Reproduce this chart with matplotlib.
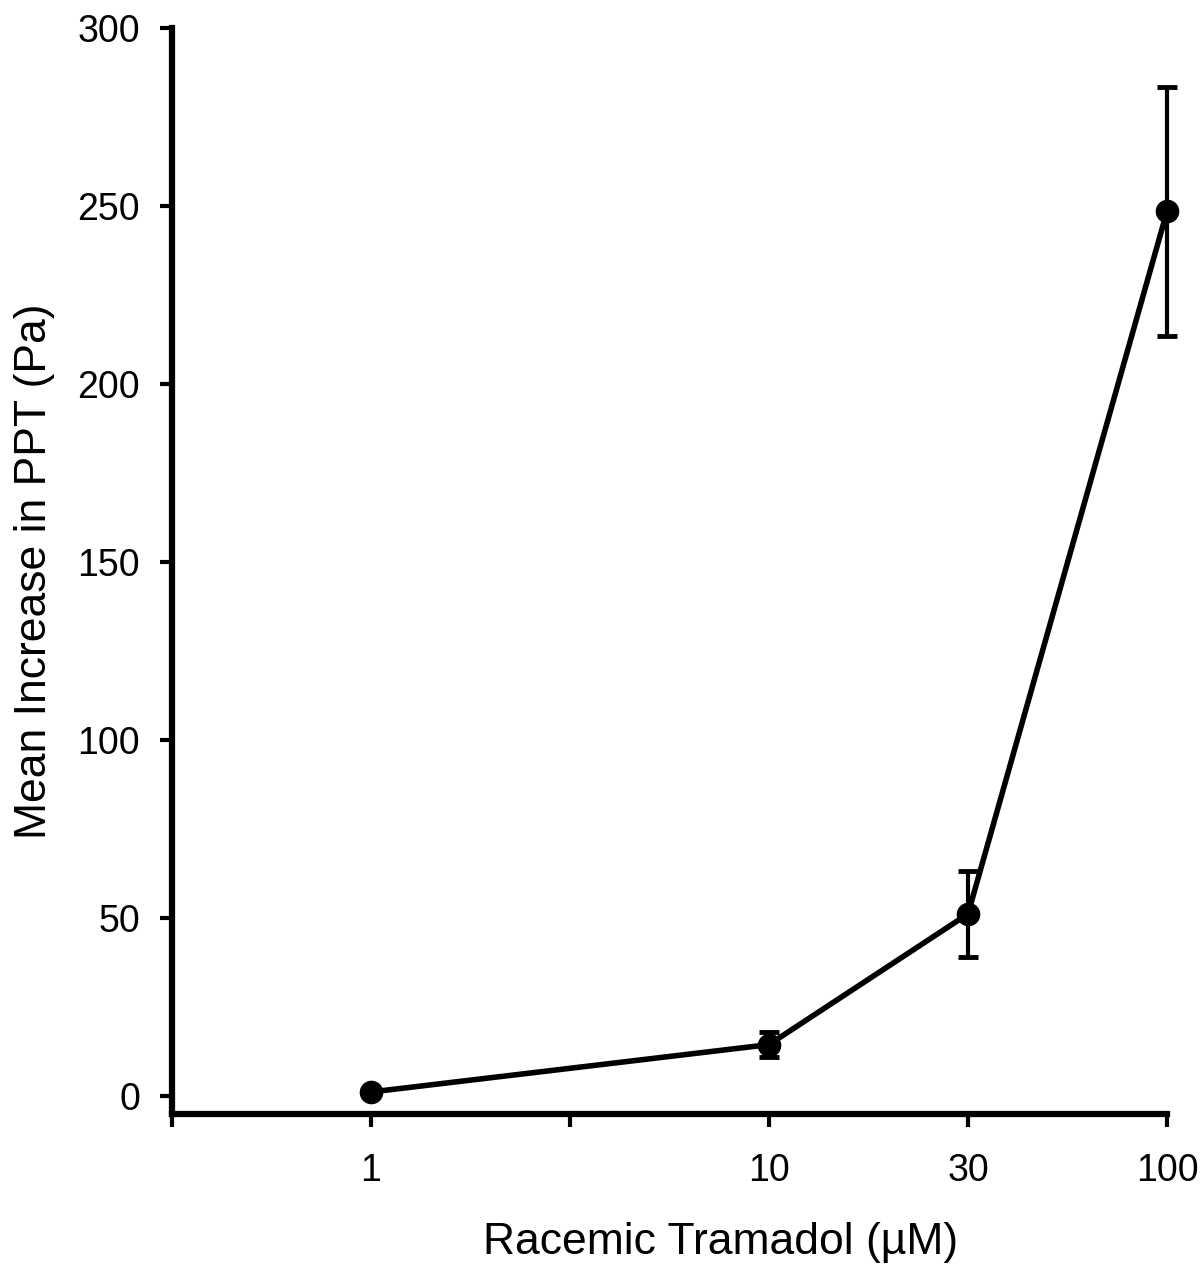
# Racemic tramadol dose response

import matplotlib
matplotlib.use('Agg')
import matplotlib.pyplot as plt
import numpy as np

plt.rcParams['font.family'] = ['Liberation Sans', 'DejaVu Sans']

doses = ['1', '10', '30', '100']
pos = [1, 3, 4, 5]
mean_ppt = [1.2, 14.5, 51.2, 248.5]
err_ppt = [0, 3.5, 12.0, 35.0]

fig = plt.figure(figsize=(12, 12.68), dpi=100)
ax = fig.add_axes([0.1433, 0.1214, 0.8292, 0.8566])

x = np.array(pos)
y = np.array(mean_ppt)
e = np.array(err_ppt)
has_err = e > 0
ax.errorbar(x[has_err], y[has_err], yerr=e[has_err], fmt='none', ecolor='black',
            elinewidth=3, capsize=7.5, capthick=3.5, clip_on=False)
ax.plot(x, y, '-o', color='black', lw=4, ms=16, clip_on=False, zorder=3)

ax.set_xlim(0, 5)
ax.set_ylim(-5, 300)
ax.set_xticks([0, 1, 2, 3, 4, 5])
ax.set_xticklabels(['', '1', '', '10', '30', '100'])
ax.set_yticks(np.arange(0, 301, 50))

for s in ['top', 'right']:
    ax.spines[s].set_visible(False)
for s in ['left', 'bottom']:
    ax.spines[s].set_linewidth(4.5)
    ax.spines[s].set_capstyle('projecting')

ax.tick_params(axis='both', labelsize=27, width=3, length=9, color='black')
ax.tick_params(axis='x', pad=19)
ax.tick_params(axis='y', pad=14)

ax.set_xlabel('Racemic Tramadol (µM)', fontsize=32, labelpad=24)
ax.xaxis.label.set_x(0.551)
ax.set_ylabel('Mean Increase in PPT (Pa)', fontsize=32, labelpad=16)

fig.savefig('out.png', dpi=100)
